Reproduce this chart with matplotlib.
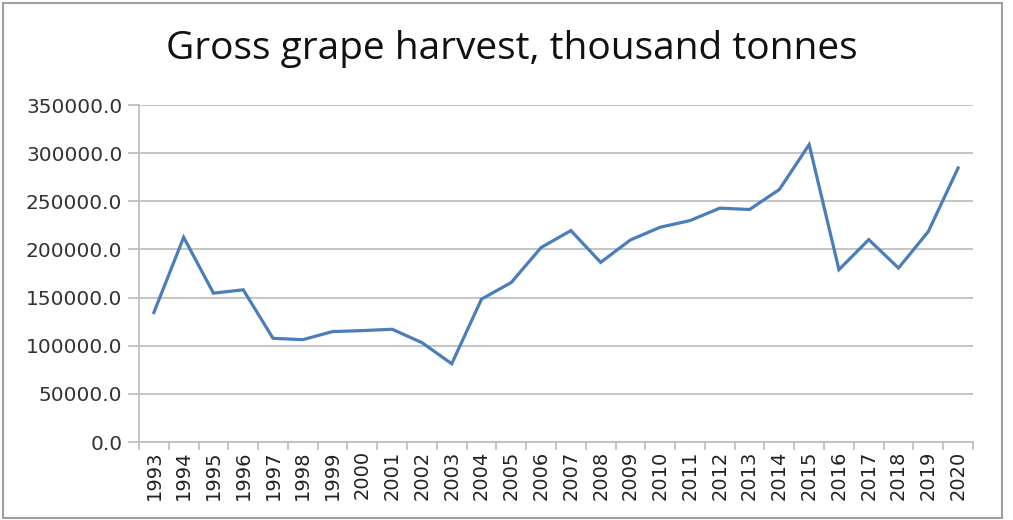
import matplotlib.pyplot as plt
from matplotlib.ticker import FixedLocator, FormatStrFormatter
from matplotlib.patches import Rectangle

years = [str(y) for y in range(1993, 2021)]
harvest = [134500, 212600, 154600, 158100, 107700, 106300, 114700, 115700,
           117100, 103200, 81300, 148400, 165700, 202000, 219600, 186600,
           209900, 223100, 230000, 242900, 241500, 262300, 308900, 179000,
           210200, 180700, 218600, 284600]

title = "Gross grape harvest, thousand tonnes"
line_color = "#4a7ebb"
grid_color = "#bfbfbf"

fig = plt.figure(figsize=(10.13, 5.20), dpi=100)
# outer chart border
fig.patches.append(Rectangle((0.003, 0.004), 0.986, 0.99, transform=fig.transFigure,
                             fill=False, edgecolor="#a0a0a0", linewidth=1.5))

ax = fig.add_axes([0.1372, 0.15, 0.8233, 0.648])
x = list(range(len(years)))
ax.plot(x, harvest, color=line_color, linewidth=2.3, solid_joinstyle="miter")

ax.set_xlim(-0.5, len(years) - 0.5)
ax.set_ylim(0, 350000)
ax.set_yticks(range(0, 350001, 50000))
ax.yaxis.set_major_formatter(FormatStrFormatter("%.1f"))
ax.grid(axis="y", color=grid_color, linewidth=1.3)
ax.set_axisbelow(True)

ax.set_xticks(x)
ax.set_xticklabels(years, rotation=90)
ax.xaxis.set_minor_locator(FixedLocator([i - 0.5 for i in range(len(years) + 1)]))
ax.tick_params(axis="x", which="major", length=0, pad=6, labelsize=14, labelcolor="#222222")
ax.tick_params(axis="x", which="minor", length=6, color=grid_color, width=1.3)
ax.tick_params(axis="y", length=8, color=grid_color, width=1.3, labelsize=14.5,
               labelcolor="#333333", pad=4)

for s in ["top", "right"]:
    ax.spines[s].set_visible(False)
for s in ["left", "bottom"]:
    ax.spines[s].set_color(grid_color)
    ax.spines[s].set_linewidth(1.3)

fig.text(0.505, 0.905, title, ha="center", va="center", fontsize=28,
         family="Open Sans", color="#111111")

fig.savefig("out.png", dpi=100)
